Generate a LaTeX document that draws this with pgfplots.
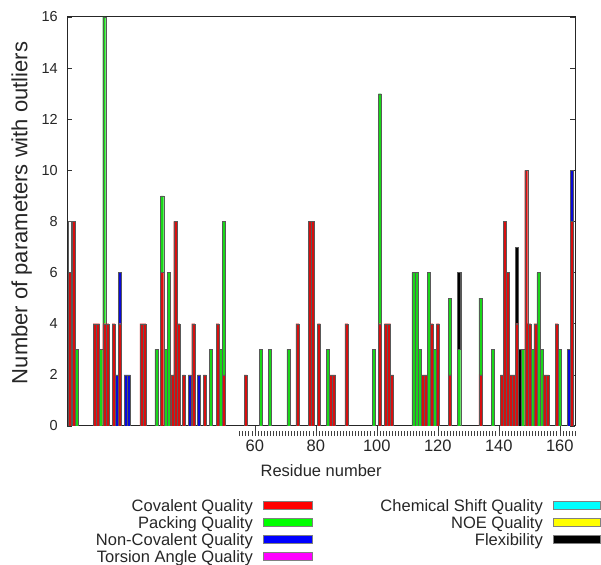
\documentclass[border=0pt]{standalone}
\usepackage{pgfplots}
\usepackage{pgfplotstable}
\pgfplotsset{compat=1.18}
\usepackage{fontspec}
\setmainfont{Liberation Sans}

\definecolor{covc}{RGB}{255,0,0}
\definecolor{packc}{RGB}{0,255,0}
\definecolor{noncc}{RGB}{0,0,255}
\definecolor{torsc}{RGB}{255,0,255}
\definecolor{chemc}{RGB}{0,255,255}
\definecolor{noec}{RGB}{255,255,0}
\definecolor{flexc}{RGB}{0,0,0}
\definecolor{covbar}{RGB}{215,15,15}
\definecolor{packbar}{RGB}{25,215,25}
\definecolor{noncbar}{RGB}{10,10,215}

\pgfplotstableread{
x cov pack nonc wht flex
-0.66 6 0 0 2 0
0.56 8 0 0 0 0
1.64 0 3 0 0 0
7.5 4 0 0 0 0
8.6 4 0 0 0 0
9.6 0 3 0 0 0
10.6 4 12 0 0 0
11.6 4 0 0 0 0
13.7 4 0 0 0 0
14.7 0 0 2 0 0
15.8 4 0 2 0 0
17.6 0 0 2 0 0
18.7 0 0 2 0 0
22.8 4 0 0 0 0
23.8 4 0 0 0 0
27.7 0 3 0 0 0
29.6 6 3 0 0 0
30.7 0 3 0 0 0
31.8 0 6 0 0 0
32.9 2 0 0 0 0
33.9 8 0 0 0 0
34.9 4 0 0 0 0
36.7 2 0 0 0 0
38.7 0 0 2 0 0
39.8 4 0 0 0 0
41.7 0 0 2 0 0
43.6 2 0 0 0 0
45.6 0 3 0 0 0
47.8 4 0 0 0 0
48.9 0 3 0 0 0
49.9 2 6 0 0 0
57 2 0 0 0 0
62 0 3 0 0 0
65 0 3 0 0 0
71 0 3 0 0 0
74 4 0 0 0 0
78 8 0 0 0 0
79 8 0 0 0 0
81 4 0 0 0 0
84 0 3 0 0 0
85 2 0 0 0 0
86 2 0 0 0 0
90 4 0 0 0 0
99 0 3 0 0 0
101 4 9 0 0 0
103 4 0 0 0 0
104 4 0 0 0 0
105 2 0 0 0 0
112 0 6 0 0 0
113 0 6 0 0 0
114 0 3 0 0 0
115 2 0 0 0 0
116 2 0 0 0 0
117 0 6 0 0 0
118 4 0 0 0 0
119 0 3 0 0 0
120 4 0 0 0 0
124 2 3 0 0 0
127 0 3 0 0 3
134 2 3 0 0 0
138 0 3 0 0 0
141 2 0 0 0 0
142 8 0 0 0 0
143 6 0 0 0 0
144 2 0 0 0 0
145 2 0 0 0 0
146 4 0 0 0 3
147 0 0 0 0 3
148 0 3 0 0 0
149 10 0 0 0 0
150 4 0 0 0 0
151 0 3 0 0 0
152 4 0 0 0 0
153 0 6 0 0 0
154 0 3 0 0 0
155 2 0 0 0 0
156 2 0 0 0 0
159 4 0 0 0 0
160 0 3 0 0 0
163 0 0 3 0 0
164 8 0 2 0 0
}\datatable

\begin{document}
\begin{tikzpicture}[x=1pt,y=1pt,font=\fontsize{16.5}{19.8}\selectfont]
\useasboundingbox (0,0) rectangle (601,564);
\begin{axis}[
  at={(67.3pt,138pt)}, anchor=south west,
  scale only axis, width=507.7pt, height=409pt,
  xmin=-1.5, xmax=165, ymin=0, ymax=16,
  ybar stacked, bar width=1,
  ytick={0,2,...,16},
  xtick={60,80,...,160},
  minor xtick={55,56,...,165},
  xtick pos=left,
  tick align=inside,
  major tick length=5pt, minor tick length=5pt,
  every x tick/.append style={yshift=-5pt, black!75, line width=0.5pt},
  every minor x tick/.append style={yshift=-5pt, black!75, line width=0.5pt},
  every y tick/.append style={black!80, line width=0.6pt},
  axis line style={black!85, line width=1pt},
  /pgf/number format/assume math mode=true,
  xticklabel style={font=\fontsize{16.5}{19.8}\selectfont, text=black!85, yshift=-10pt},
  yticklabel style={font=\fontsize{14.5}{17}\selectfont, text=black!85, xshift=-6pt},
  xlabel={Residue number},
  ylabel={Number of parameters with outliers},
  xlabel style={at={(axis description cs:0.5,-0.108)}, anchor=center, text=black!85},
  ylabel style={at={(axis description cs:-0.0898,0.521)}, anchor=center, text=black!85, font=\fontsize{22}{26}\selectfont},
  every axis plot/.append style={draw=black!65, line width=0.3pt},
]
\addplot[fill=covbar] table[x=x,y=cov]{\datatable};
\addplot[fill=packbar] table[x=x,y=pack]{\datatable};
\addplot[fill=noncbar] table[x=x,y=nonc]{\datatable};
\addplot[fill=white] table[x=x,y=wht]{\datatable};
\addplot[fill=flexc] table[x=x,y=flex]{\datatable};
\end{axis}
% legend
\begin{scope}[text=black!85]
\node[anchor=base east, inner sep=0pt] at (253,53) {Covalent Quality};
\node[anchor=base east, inner sep=0pt] at (253,36) {Packing Quality};
\node[anchor=base east, inner sep=0pt] at (253,19) {Non-Covalent Quality};
\node[anchor=base east, inner sep=0pt] at (253,2) {Torsion Angle Quality};
\node[anchor=base east, inner sep=0pt] at (543,53) {Chemical Shift Quality};
\node[anchor=base east, inner sep=0pt] at (543,36) {NOE Quality};
\node[anchor=base east, inner sep=0pt] at (543,19) {Flexibility};
\end{scope}
\begin{scope}[draw=black!50, line width=0.5pt]
\filldraw[fill=covc] (263,55) rectangle (312,63);
\filldraw[fill=packc] (263,38) rectangle (312,46);
\filldraw[fill=noncc] (263,21) rectangle (312,29);
\filldraw[fill=torsc] (263,4) rectangle (312,12);
\filldraw[fill=chemc] (553,55) rectangle (600,63);
\filldraw[fill=noec] (553,38) rectangle (600,46);
\filldraw[fill=flexc] (553,21) rectangle (600,29);
\end{scope}
\end{tikzpicture}
\end{document}
